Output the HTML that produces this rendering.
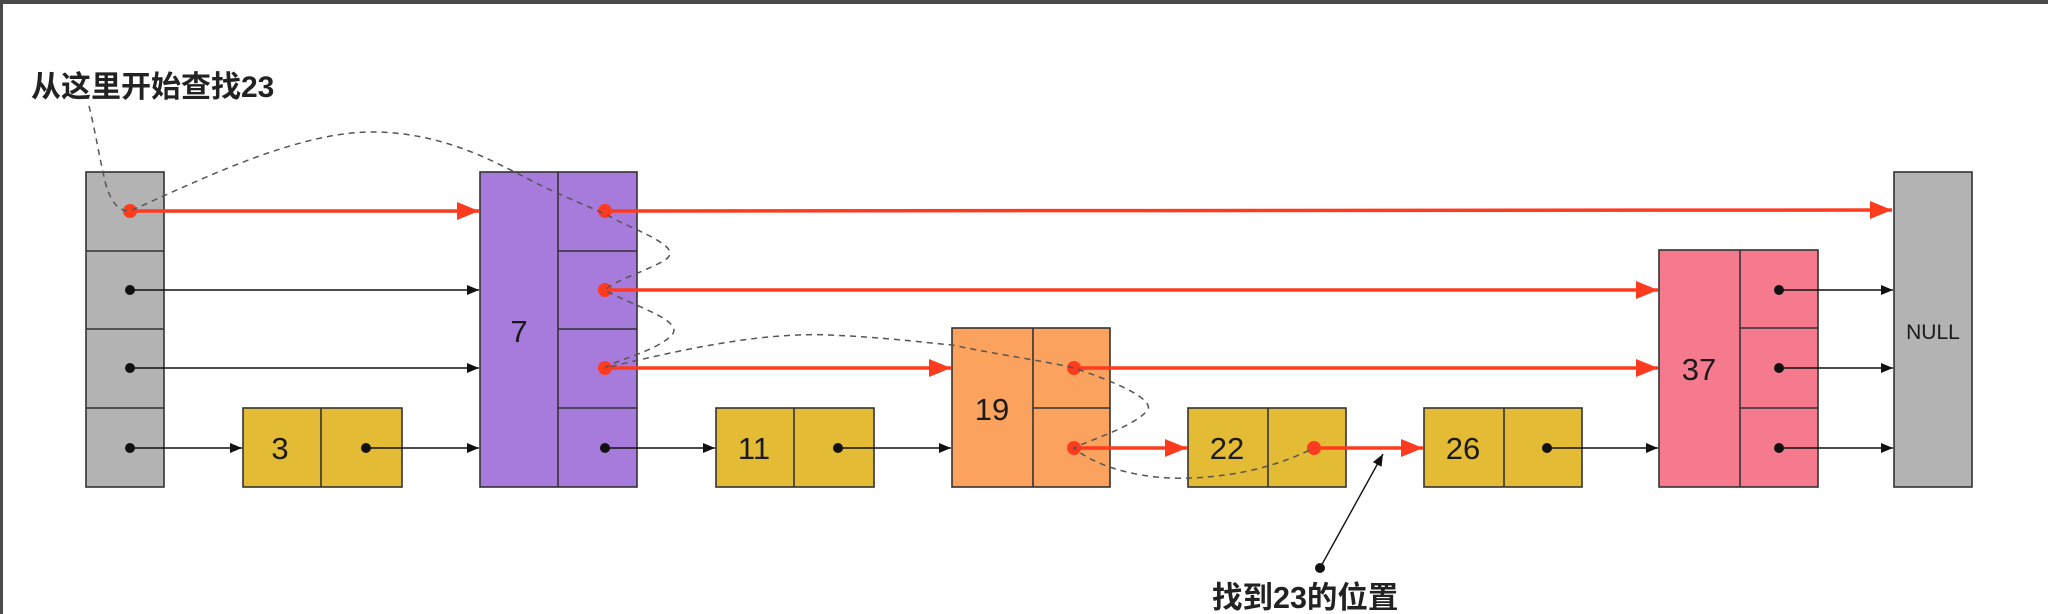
<!DOCTYPE html>
<html><head><meta charset="utf-8"><style>
html,body{margin:0;padding:0;background:#fff}
svg{display:block}
.t{font-family:"Liberation Sans",sans-serif;fill:#1a1a1a}
.c{font-family:"Liberation Sans","Noto Sans CJK SC",sans-serif;font-weight:bold;fill:#222}
</style></head><body>
<svg width="2048" height="614" viewBox="0 0 2048 614" xmlns="http://www.w3.org/2000/svg">
<defs>
<marker id="ab" markerWidth="12" markerHeight="10" refX="12" refY="5" orient="auto" markerUnits="userSpaceOnUse"><path d="M0,0 L12,5 L0,10 z" fill="#111"/></marker>
<marker id="ar" markerWidth="22" markerHeight="18" refX="22" refY="9" orient="auto" markerUnits="userSpaceOnUse"><path d="M0,0 L22,9 L0,18 z" fill="#ff3b1f"/></marker>
</defs>
<rect x="0" y="0" width="2048" height="4" fill="#4a4a4a"/>
<rect x="0" y="0" width="3" height="614" fill="#4a4a4a"/>
<g stroke="#333" stroke-width="1.6">
<rect x="86" y="172" width="78" height="315" fill="#b3b3b3"/>
<line x1="86" y1="251" x2="164" y2="251"/><line x1="86" y1="329" x2="164" y2="329"/><line x1="86" y1="408" x2="164" y2="408"/>
<rect x="243" y="408" width="159" height="79" fill="#e4bb35"/><line x1="321" y1="408" x2="321" y2="487"/>
<rect x="480" y="172" width="157" height="315" fill="#a77bdb"/><line x1="558" y1="172" x2="558" y2="487"/>
<line x1="558" y1="251" x2="637" y2="251"/><line x1="558" y1="329" x2="637" y2="329"/><line x1="558" y1="408" x2="637" y2="408"/>
<rect x="716" y="408" width="158" height="79" fill="#e4bb35"/><line x1="794" y1="408" x2="794" y2="487"/>
<rect x="952" y="328" width="158" height="159" fill="#fba25e"/><line x1="1033" y1="328" x2="1033" y2="487"/><line x1="1033" y1="408" x2="1110" y2="408"/>
<rect x="1188" y="408" width="158" height="79" fill="#e4bb35"/><line x1="1268" y1="408" x2="1268" y2="487"/>
<rect x="1424" y="408" width="158" height="79" fill="#e4bb35"/><line x1="1504" y1="408" x2="1504" y2="487"/>
<rect x="1659" y="250" width="159" height="237" fill="#f57a8e"/><line x1="1740" y1="250" x2="1740" y2="487"/>
<line x1="1740" y1="328" x2="1818" y2="328"/><line x1="1740" y1="408" x2="1818" y2="408"/>
<rect x="1894" y="172" width="78" height="315" fill="#b3b3b3"/>
</g>
<g class="t" text-anchor="middle">
<text x="280" y="459" font-size="31">3</text>
<text x="519" y="342" font-size="31">7</text>
<text x="754" y="459" font-size="31">11</text>
<text x="992" y="420" font-size="31">19</text>
<text x="1227" y="459" font-size="31">22</text>
<text x="1463" y="459" font-size="31">26</text>
<text x="1699" y="380" font-size="31">37</text>
<text x="1933" y="339" font-size="21">NULL</text>
</g>
<g stroke="#111" stroke-width="1.4" marker-end="url(#ab)">
<line x1="130" y1="290" x2="479" y2="290"/>
<line x1="130" y1="368" x2="479" y2="368"/>
<line x1="130" y1="448" x2="242" y2="448"/>
<line x1="366" y1="448" x2="479" y2="448"/>
<line x1="605" y1="448" x2="715" y2="448"/>
<line x1="838" y1="448" x2="951" y2="448"/>
<line x1="1547" y1="448" x2="1658" y2="448"/>
<line x1="1779" y1="290" x2="1893" y2="290"/>
<line x1="1779" y1="368" x2="1893" y2="368"/>
<line x1="1779" y1="448" x2="1893" y2="448"/>
<line x1="1320" y1="568" x2="1383" y2="454"/>
</g>
<g fill="#111">
<circle cx="130" cy="290" r="5"/><circle cx="130" cy="368" r="5"/><circle cx="130" cy="448" r="5"/>
<circle cx="366" cy="448" r="5"/><circle cx="605" cy="448" r="5"/><circle cx="838" cy="448" r="5"/>
<circle cx="1547" cy="448" r="5"/><circle cx="1779" cy="290" r="5"/><circle cx="1779" cy="368" r="5"/><circle cx="1779" cy="448" r="5"/>
<circle cx="1320" cy="568" r="5"/>
</g>
<g stroke="#ff3b1f" stroke-width="3.5" marker-end="url(#ar)">
<line x1="130" y1="211" x2="479" y2="211"/>
<line x1="605" y1="211" x2="1892" y2="210"/>
<line x1="605" y1="290" x2="1658" y2="290"/>
<line x1="605" y1="368" x2="951" y2="368"/>
<line x1="1074" y1="368" x2="1658" y2="368"/>
<line x1="1074" y1="448" x2="1187" y2="448"/>
<line x1="1314" y1="448" x2="1423" y2="448"/>
</g>
<g fill="#ff3b1f">
<circle cx="130" cy="211" r="7"/><circle cx="605" cy="211" r="7"/><circle cx="605" cy="290" r="7"/><circle cx="605" cy="368" r="7"/>
<circle cx="1074" cy="368" r="7"/><circle cx="1074" cy="448" r="7"/><circle cx="1314" cy="448" r="7"/>
</g>
<path d="M89,106 C95,130 100,160 103,172 C108,200 118,212 130,211 C200,180 300,130 377,132 C450,134 500,165 540,185 C570,200 600,210 620,222 C660,240 680,250 665,260 C645,272 615,280 605,290 C630,305 685,320 672,335 C655,352 615,360 605,368 C680,350 760,332 829,335 C880,337 920,342 952,345 C1000,355 1050,362 1074,368 C1110,380 1160,400 1146,412 C1130,428 1090,440 1074,448 C1100,470 1150,480 1191,478 C1240,476 1280,465 1314,448" fill="none" stroke="#555" stroke-width="1.5" stroke-dasharray="6,5"/>
<text class="c" x="31" y="97" font-size="30">从这里开始查找23</text>
<text class="c" x="1212" y="608" font-size="30.5">找到23的位置</text>
</svg>
</body></html>
